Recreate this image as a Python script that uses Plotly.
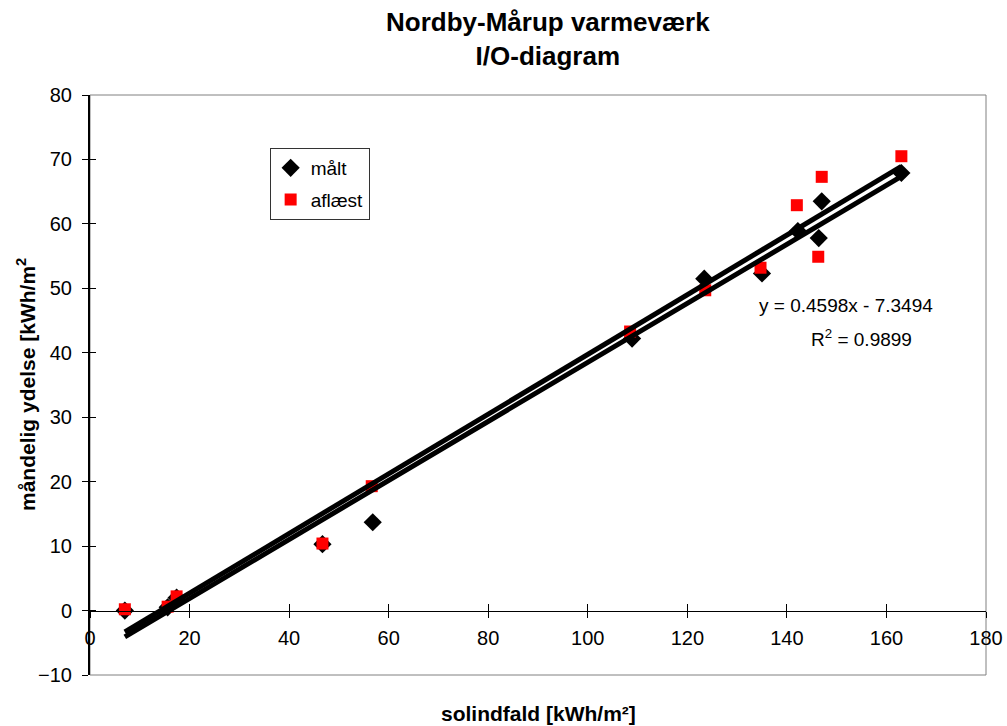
import numpy as np
import plotly.graph_objects as go

# --- data ---
maalt_x = [7.0, 15.6, 17.4, 46.7, 56.8, 108.9, 123.4, 135.0, 142.2, 146.4, 147.0, 163.0]
maalt_y = [0.0, 0.5, 2.0, 10.3, 13.7, 42.2, 51.5, 52.3, 58.9, 57.8, 63.5, 67.9]
aflaest_x = [7.0, 15.6, 17.4, 46.7, 56.6, 108.5, 123.6, 134.7, 142.0, 146.3, 147.0, 163.0]
aflaest_y = [0.2, 0.6, 2.2, 10.4, 19.3, 43.3, 49.7, 53.2, 62.9, 54.9, 67.3, 70.5]

x_ticks = [0, 20, 40, 60, 80, 100, 120, 140, 160, 180]
y_ticks = [-10, 0, 10, 20, 30, 40, 50, 60, 70, 80]

title_lines = ["Nordby-Mårup varmeværk", "I/O-diagram"]
eq_text = "y = 0.4598x - 7.3494"
r2_text = "R<sup>2</sup> = 0.9899"

FONT = "Arial, Liberation Sans, sans-serif"

fig = go.Figure()

# markers on the main axes (x / y)
fig.add_trace(go.Scatter(
    x=maalt_x, y=maalt_y, mode="markers", name="målt",
    marker=dict(symbol="diamond", size=14, color="black"),
    legendgroup="a", xaxis="x", yaxis="y"))
fig.add_trace(go.Scatter(
    x=aflaest_x, y=aflaest_y, mode="markers", name="aflæst",
    marker=dict(symbol="square", size=12, color="#ff0000"),
    legendgroup="b", xaxis="x", yaxis="y"))

# linear trendlines (least squares fit of each series), on the overlay axes
for xs, ys in [(aflaest_x, aflaest_y), (maalt_x, maalt_y)]:
    a, b = np.polyfit(xs, ys, 1)
    lx = np.array([min(xs), max(xs)])
    fig.add_trace(go.Scatter(
        x=lx, y=a * lx + b, mode="lines", showlegend=False,
        line=dict(color="black", width=5), hoverinfo="skip",
        xaxis="x2", yaxis="y2"))

y_pos = (0 - y_ticks[0]) / (y_ticks[-1] - y_ticks[0])
xr = [x_ticks[0], x_ticks[-1]]
yr = [y_ticks[0], y_ticks[-1]]

fig.update_layout(
    width=1007, height=726,
    margin=dict(l=90, r=21, t=95, b=51, autoexpand=False),
    paper_bgcolor="white", plot_bgcolor="white",
    font=dict(family=FONT, size=20, color="black"),
    showlegend=True,
    legend=dict(x=0.2005, y=0.9086, xanchor="left", yanchor="top",
                bordercolor="#333333", borderwidth=1, bgcolor="white",
                font=dict(size=19), tracegroupgap=4, itemwidth=30),
    xaxis=dict(range=xr, anchor="free", position=y_pos, tickvals=x_ticks,
               ticks="outside", ticklen=6, tickcolor="black", showline=True,
               linecolor="black", linewidth=1, showgrid=False, zeroline=False,
               tickfont=dict(size=20), ticklabelstandoff=3, automargin=False),
    xaxis2=dict(range=xr, overlaying="x", anchor="free", position=y_pos,
                tickvals=x_ticks, ticks="inside", ticklen=7, tickcolor="black",
                showline=False, showgrid=False, zeroline=False,
                showticklabels=False, automargin=False),
    yaxis=dict(range=yr, tickvals=y_ticks, ticks="outside", ticklen=6,
               tickcolor="black", showline=True, linecolor="black", linewidth=2,
               showgrid=False, zeroline=False, tickfont=dict(size=20),
               ticklabelstandoff=6, automargin=False),
    yaxis2=dict(range=yr, overlaying="y", anchor="x", tickvals=y_ticks,
                ticks="inside", ticklen=6, tickcolor="black", showline=False,
                showgrid=False, zeroline=False, showticklabels=False,
                automargin=False),
    shapes=[dict(type="rect", xref="paper", yref="paper", x0=0, x1=1, y0=0, y1=1,
                 line=dict(color="#808080", width=1), layer="below")],
)

fig.add_annotation(text="<b>" + title_lines[0] + "<br>" + title_lines[1] + "</b>",
                   xref="paper", yref="paper", x=0.511, y=1.0974,
                   xanchor="center", yanchor="middle", showarrow=False,
                   font=dict(size=26, family=FONT))
fig.add_annotation(text="<b>solindfald [kWh/m²]</b>", xref="paper", yref="paper",
                   x=0.5, y=0, yshift=-38, xanchor="center", yanchor="middle",
                   showarrow=False, font=dict(size=21, family=FONT))
fig.add_annotation(text="<b>måndelig ydelse [kWh/m<sup>2</sup></b>", xref="paper",
                   yref="paper", x=0, y=0.5, xshift=-64, textangle=-90,
                   xanchor="center", yanchor="middle", showarrow=False,
                   font=dict(size=21, family=FONT))
fig.add_annotation(text=eq_text, x=151.9, y=47.4, xref="x", yref="y",
                   showarrow=False, font=dict(size=19, family=FONT))
fig.add_annotation(text=r2_text, x=154.9, y=42.3, xref="x", yref="y",
                   showarrow=False, font=dict(size=19, family=FONT))

fig.write_html("out.html")
